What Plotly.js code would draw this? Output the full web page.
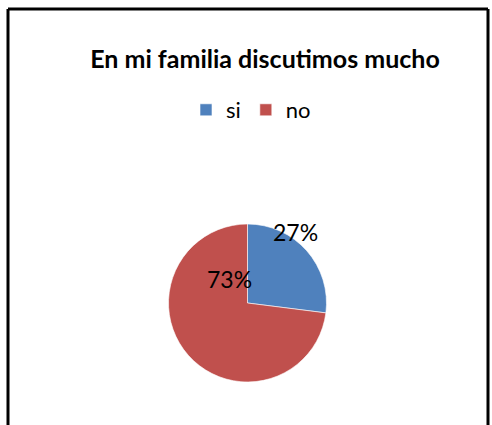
<!DOCTYPE html>
<html>
<head>
<meta charset="utf-8">
<script src="https://cdn.plot.ly/plotly-3.0.1.min.js"></script>
<style>html,body{margin:0;padding:0;background:#fff}#chart{width:492px;height:425px}</style>
</head>
<body>
<div id="chart"></div>
<script>
const categories = ["si", "no"];
const values = [27, 73];
const colors = ["#4F81BD", "#C0504D"];
const labelPos = [[295, 232], [229, 279]];

const W = 492, H = 425;
const total = values.reduce((a, b) => a + b, 0);
const px = x => x / W, py = y => 1 - y / H;
const FONT = "Lato, 'Open Sans', sans-serif";

const trace = {
  type: "pie",
  labels: categories,
  values: values,
  sort: false,
  direction: "clockwise",
  rotation: 0,
  textinfo: "none",
  hoverinfo: "label+percent",
  marker: {colors: colors, line: {color: "#ffffff", width: 0.6}},
  domain: {x: [px(168), px(327)], y: [py(382), py(224)]}
};

const annotations = categories.map((c, i) => ({
  text: Math.round(values[i] / total * 100) + "%",
  xref: "paper", yref: "paper",
  x: px(labelPos[i][0]), y: py(labelPos[i][1]),
  xanchor: "center", yanchor: "middle",
  showarrow: false,
  font: {family: FONT, size: 23, color: "#000"}
}));

const line = {type: "line", xref: "paper", yref: "paper", line: {color: "#000", width: 3}};
const shapes = [
  Object.assign({}, line, {x0: px(8), x1: px(8), y0: py(9), y1: py(425)}),
  Object.assign({}, line, {x0: px(8), x1: px(488), y0: py(9), y1: py(9)}),
  Object.assign({}, line, {x0: px(488), x1: px(488), y0: py(9), y1: py(425)})
];

const layout = {
  width: W, height: H,
  margin: {l: 0, r: 0, t: 0, b: 0},
  paper_bgcolor: "#fff",
  title: {
    text: "<b>En mi familia discutimos mucho</b>",
    x: px(265), xanchor: "center",
    y: py(59), yanchor: "middle",
    font: {family: FONT, size: 25, color: "#000"}
  },
  showlegend: true,
  legend: {
    orientation: "h",
    x: px(186), xanchor: "left",
    y: py(110), yanchor: "middle",
    font: {family: FONT, size: 22, color: "#000"},
    itemwidth: 30,
    traceorder: "normal"
  },
  annotations: annotations,
  shapes: shapes
};

Plotly.newPlot("chart", [trace], layout, {displayModeBar: false, staticPlot: true});
</script>
</body>
</html>
